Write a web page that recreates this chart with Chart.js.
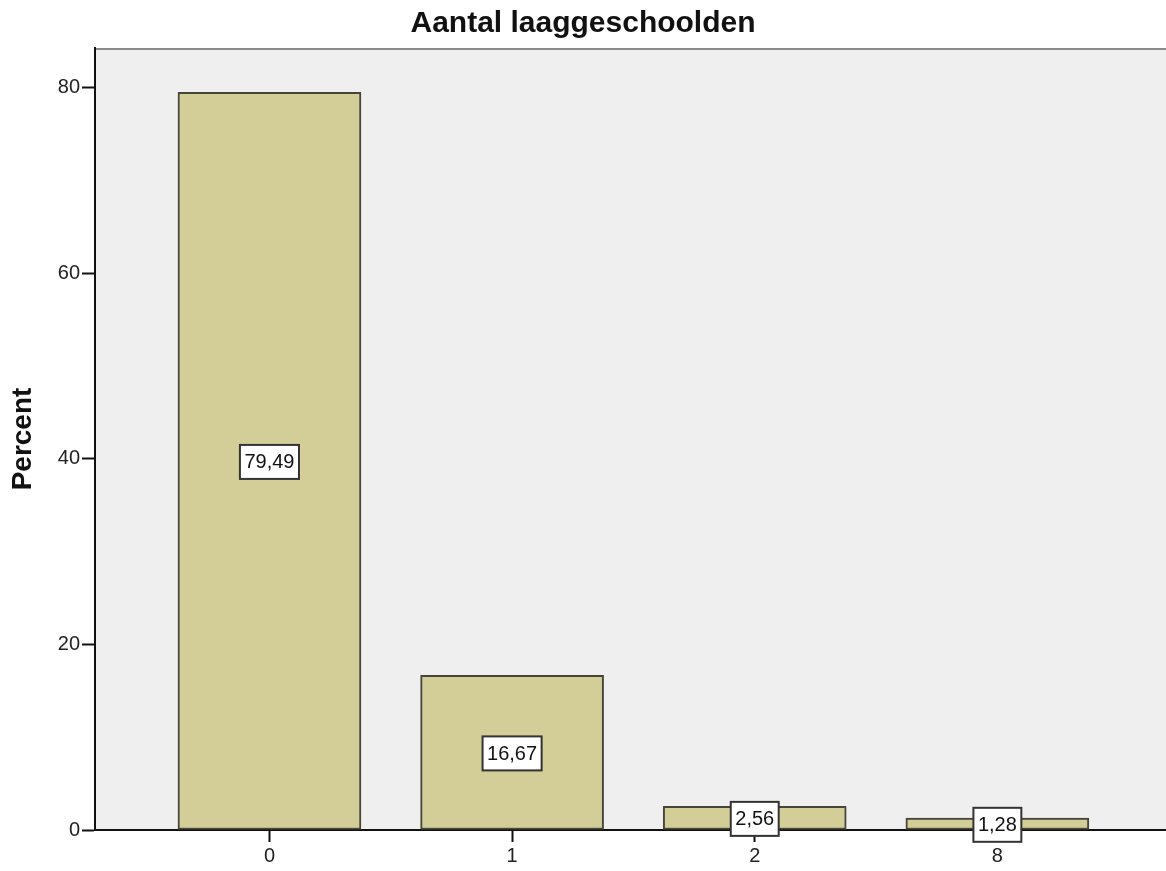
<!DOCTYPE html>
<html lang="nl">
<head>
    <meta charset="UTF-8">
    <title>Aantal laaggeschoolden</title>
    <script src="https://cdn.jsdelivr.net/npm/chart.js"></script>
    <style>
        body { margin: 0; background: #fff; }
        .wrap { width: 1166px; height: 871px; }
    </style>
</head>
<body>
    <div class="wrap"><canvas id="barChart"></canvas></div>

    <script>
        // data
        const categories = ["0", "1", "2", "8"];
        const positions = [0, 1, 2, 3];
        const percents = [79.49, 16.67, 2.56, 1.28];
        const yTicks = [0, 20, 40, 60, 80];

        const font = "'Liberation Sans', Arial, sans-serif";

        // gray plot background + top frame line
        const plotBox = {
            id: "plotBox",
            beforeDraw(chart) {
                const { ctx, chartArea: a } = chart;
                ctx.save();
                ctx.fillStyle = "#efefef";
                ctx.fillRect(a.left, a.top, a.right - a.left, a.bottom - a.top);
                ctx.strokeStyle = "#8a8a8a";
                ctx.lineWidth = 2;
                ctx.beginPath();
                ctx.moveTo(a.left, a.top + 1);
                ctx.lineTo(a.right, a.top + 1);
                ctx.stroke();
                ctx.restore();
            }
        };

        // white value boxes in the middle of each bar
        const valueBoxes = {
            id: "valueBoxes",
            afterDatasetsDraw(chart) {
                const { ctx } = chart;
                const meta = chart.getDatasetMeta(0);
                ctx.save();
                ctx.font = "20px " + font;
                ctx.textAlign = "center";
                ctx.textBaseline = "middle";
                meta.data.forEach((bar, i) => {
                    const txt = percents[i].toFixed(2).replace(".", ",");
                    const cx = bar.x;
                    const cy = (bar.y + bar.base) / 2 + 1;
                    const w = ctx.measureText(txt).width + 9;
                    const h = 34;
                    ctx.fillStyle = "#ffffff";
                    ctx.fillRect(cx - w / 2, cy - h / 2, w, h);
                    ctx.strokeStyle = "#333333";
                    ctx.lineWidth = 2;
                    ctx.strokeRect(cx - w / 2, cy - h / 2, w, h);
                    ctx.fillStyle = "#111111";
                    ctx.fillText(txt, cx, cy + 1);
                });
                ctx.restore();
            }
        };

        new Chart(document.getElementById("barChart"), {
            type: "bar",
            data: {
                datasets: [{
                    data: positions.map((p, i) => ({ x: p, y: percents[i] })),
                    backgroundColor: "#d3ce97",
                    borderColor: "#45453a",
                    borderWidth: 2,
                    borderSkipped: false,
                    barThickness: 183
                }]
            },
            options: {
                responsive: true,
                maintainAspectRatio: false,
                animation: false,
                layout: { padding: 0 },
                plugins: {
                    legend: { display: false },
                    tooltip: { enabled: false },
                    title: {
                        display: true,
                        text: "Aantal laaggeschoolden",
                        color: "#111",
                        font: { family: font, size: 30, weight: "bold", lineHeight: 1.2 },
                        padding: { top: 6, bottom: 6 }
                    }
                },
                scales: {
                    x: {
                        type: "linear",
                        offset: false,
                        min: -0.719,
                        max: 3.695,
                        afterBuildTicks: s => { s.ticks = positions.map(v => ({ value: v })); },
                        afterFit: s => { s.height = 41; },
                        grid: { offset: false, drawOnChartArea: false, tickLength: 12, tickColor: "#111", tickWidth: 2 },
                        border: { color: "#111", width: 2 },
                        ticks: {
                            color: "#222",
                            padding: 2,
                            maxRotation: 0,
                            font: { family: font, size: 20 },
                            callback: v => categories[v] ?? ""
                        }
                    },
                    y: {
                        min: 0,
                        max: 84.27,
                        afterBuildTicks: s => { s.ticks = yTicks.map(v => ({ value: v })); },
                        afterFit: s => { s.width = 95; },
                        grid: { drawOnChartArea: false, tickLength: 13, tickColor: "#111", tickWidth: 2 },
                        border: { color: "#111", width: 2 },
                        ticks: {
                            color: "#222",
                            padding: 2,
                            font: { family: font, size: 20 }
                        },
                        title: {
                            display: true,
                            text: "Percent",
                            color: "#111",
                            font: { family: font, size: 28, weight: "bold", lineHeight: 1.2 },
                            padding: { top: 6, bottom: 0 }
                        }
                    }
                }
            },
            plugins: [plotBox, valueBoxes]
        });
    </script>
</body>
</html>
